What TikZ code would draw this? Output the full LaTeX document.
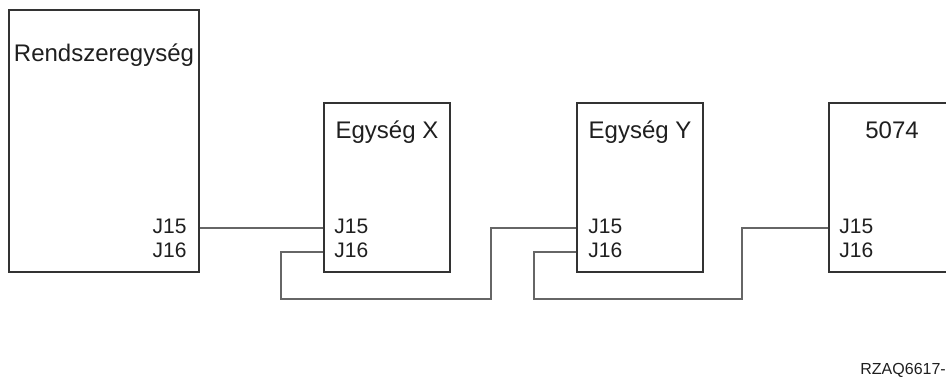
\documentclass[tikz,border=0pt]{standalone}
\usepackage{fontspec}
\setmainfont{Liberation Sans}
\usetikzlibrary{positioning}
\definecolor{boxgray}{gray}{0.2}
\definecolor{wiregray}{gray}{0.4}
\definecolor{textgray}{gray}{0.12}

\begin{document}
\begin{tikzpicture}[x=0.5pt,y=-0.5pt]
  \useasboundingbox (0,0) rectangle (946,377);
  \tikzstyle{unit}=[draw=boxgray, line width=1pt, inner sep=0, minimum width=63pt, minimum height=84.5pt]
  \tikzstyle{title}=[inner sep=0, anchor=base, text=textgray, font=\fontsize{12}{14}\selectfont]
  \tikzstyle{port}=[inner sep=0, text=textgray, font=\fontsize{10.5}{12}\selectfont]
  \tikzstyle{wire}=[draw=wiregray, line width=0.75pt]

  % Egysegek
  \node[unit, minimum width=95pt, minimum height=131pt] (sys) at (104,141) {};
  \node[unit] (ux) at (387,187.5) {};
  \node[unit] (uy) at (640,187.5) {};
  \node[unit] (u5) at (892,187.5) {};

  \node[title] (tsys) at (104,61) {Rendszeregység};
  \node[title] (tx) at (387,138) {Egység X};
  \node[title] (ty) at (640,138) {Egység Y};
  \node[title] (t5) at (892,138) {5074};

  % Csatlakozok
  \node[port, anchor=mid east] (s15) at (187,228) {J15};
  \node[port, anchor=mid east] (s16) at (187,252) {J16};
  \node[port, anchor=mid west] (x15) at (334,228) {J15};
  \node[port, anchor=mid west] (x16) at (334,252) {J16};
  \node[port, anchor=mid west] (y15) at (588,228) {J15};
  \node[port, anchor=mid west] (y16) at (588,252) {J16};
  \node[port, anchor=mid west] (f15) at (839,228) {J15};
  \node[port, anchor=mid west] (f16) at (839,252) {J16};

  % Kabelek
  \draw[wire] (sys.east |- s15.mid) -- (ux.west |- x15.mid);
  \draw[wire] (ux.west |- x16.mid) -- ++(-42,0) -- ++(0,47) -- ++(210,0) |- (uy.west |- y15.mid);
  \draw[wire] (uy.west |- y16.mid) -- ++(-42,0) -- ++(0,47) -- ++(208,0) |- (u5.west |- f15.mid);

  \node[inner sep=0, anchor=base west, text=textgray, font=\fontsize{8}{10}\selectfont] (ref) at (860,374) {RZAQ6617-};
\end{tikzpicture}
\end{document}
